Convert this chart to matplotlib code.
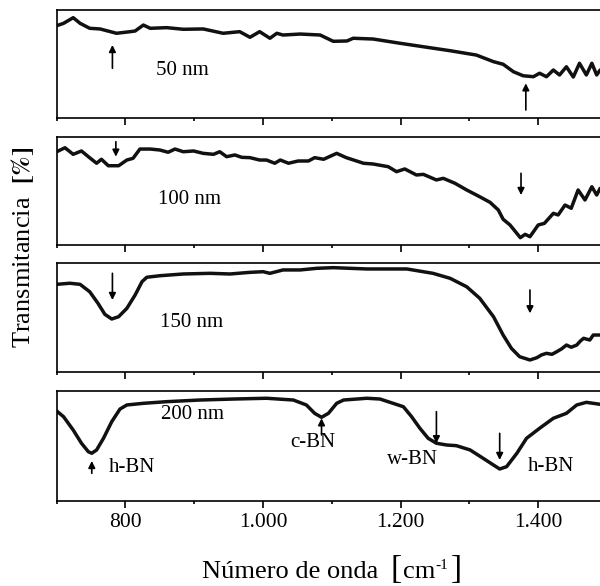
import numpy as np
import matplotlib.pyplot as plt
from matplotlib.ticker import FixedLocator, FuncFormatter

plt.rcParams['font.family'] = ['Liberation Serif', 'DejaVu Serif']
plt.rcParams['mathtext.fontset'] = 'stix'

# espectros FTIR, transmitancia normalizada (0 = fondo del panel, 100 = tope)
x_50 = [700, 710, 724, 734, 748, 763, 787, 807, 814, 826, 836, 860, 884, 913, 942, 966, 981, 995,
        1010, 1020, 1029, 1054, 1083, 1102, 1122, 1131, 1160, 1199, 1238, 1272, 1310, 1335, 1349,
        1364, 1378, 1393, 1402, 1412, 1422, 1431, 1441, 1451, 1460, 1470, 1478, 1485, 1490]
t_50 = [85.5, 87.7, 92.9, 87.7, 83.1, 82.5, 78.5, 80.0, 80.6, 86.1, 83.1, 83.7, 82.2, 82.5, 78.5,
        80.0, 74.8, 80.0, 73.9, 78.5, 76.9, 77.8, 76.9, 71.1, 71.4, 73.9, 73.2, 69.3, 65.6, 62.4,
        58.4, 52.3, 49.9, 43.0, 39.3, 38.4, 41.6, 38.4, 44.6, 40.0, 47.6, 38.1, 50.8, 40.0, 50.8,
        40.0, 44.6]

x_100 = [700, 712, 724, 736, 746, 758, 765, 775, 790, 802, 811, 821, 836, 850, 862, 872, 884, 899,
         913, 928, 937, 947, 959, 969, 981, 995, 1005, 1017, 1025, 1037, 1051, 1066, 1075, 1088,
         1107, 1121, 1146, 1160, 1182, 1194, 1206, 1223, 1233, 1252, 1262, 1279, 1296, 1315, 1330,
         1342, 1349, 1359, 1374, 1381, 1388, 1400, 1409, 1422, 1429, 1439, 1448, 1458, 1468, 1478,
         1485, 1490]
t_100 = [86.6, 90.3, 84.2, 87.3, 82.0, 75.9, 79.6, 73.6, 73.6, 78.9, 80.5, 89.1, 89.1, 88.2, 86.1,
         89.1, 86.6, 87.3, 85.1, 84.2, 86.6, 82.0, 83.6, 81.4, 81.1, 78.9, 78.9, 75.9, 78.9, 75.9,
         78.0, 78.0, 81.1, 79.6, 85.1, 81.1, 75.9, 75.2, 72.7, 68.1, 70.6, 65.0, 65.6, 60.4, 61.9,
         57.3, 51.1, 44.8, 39.6, 32.5, 23.9, 18.6, 6.8, 9.9, 7.7, 18.6, 20.1, 29.4, 27.9, 37.1,
         34.1, 51.1, 41.8, 54.1, 46.4, 52.6]

x_150 = [700, 719, 734, 748, 760, 770, 780, 790, 802, 814, 824, 831, 850, 884, 923, 952, 981, 1000,
         1010, 1029, 1054, 1078, 1102, 1151, 1209, 1247, 1272, 1296, 1315, 1335, 1349, 1361, 1373,
         1388, 1398, 1405, 1412, 1420, 1427, 1434, 1441, 1448, 1456, 1461, 1466, 1475, 1480, 1490]
t_150 = [80.7, 81.7, 80.7, 73.9, 63.3, 53.2, 48.9, 51.0, 58.7, 70.9, 83.1, 87.2, 88.6, 90.2, 90.8,
         90.2, 91.7, 92.3, 90.8, 93.9, 93.9, 95.4, 96.0, 94.8, 94.8, 90.8, 86.2, 78.5, 67.9, 51.0,
         34.2, 22.0, 14.3, 11.3, 13.4, 16.0, 17.4, 16.5, 18.9, 21.5, 25.0, 23.0, 25.0, 28.5, 31.2,
         29.6, 34.2, 34.2]

x_200 = [700, 710, 724, 736, 746, 751, 758, 768, 780, 792, 802, 826, 860, 908, 957, 1005, 1044,
         1063, 1075, 1085, 1095, 1107, 1117, 1151, 1170, 1189, 1204, 1216, 1228, 1240, 1252, 1267,
         1281, 1301, 1320, 1335, 1344, 1354, 1369, 1383, 1402, 1422, 1441, 1456, 1470, 1490]
t_200 = [81.8, 76.6, 64.5, 52.5, 44.8, 43.4, 46.4, 57.0, 72.1, 83.6, 87.3, 88.8, 90.3, 91.8, 92.7,
         93.4, 91.8, 87.3, 79.7, 76.1, 79.7, 88.8, 91.8, 93.4, 92.7, 88.8, 85.7, 76.6, 66.1, 57.0,
         52.5, 50.9, 50.3, 46.4, 38.8, 32.7, 29.1, 31.2, 43.4, 57.0, 66.1, 75.2, 79.7, 87.3, 89.7,
         87.9]

series = [(x_50, t_50), (x_100, t_100), (x_150, t_150), (x_200, t_200)]
sample_labels = ['50 nm', '100 nm', '150 nm', '200 nm']
label_pos = [(845, 44.1), (847, 42.7), (850, 45.7), (852, 78.2)]

# flechas: (x, cola, punta)
arrows = [
    [(781, 46.2, 67.7), (1382, 7.7, 32.3)],
    [(786, 95.9, 82.0), (1375, 66.6, 46.4)],
    [(781, 90.8, 66.3), (1388, 75.5, 54.1)],
    [(751, 25.2, 36.4), (1085, 60.0, 75.2), (1252, 81.2, 52.5), (1344, 61.5, 37.3)],
]
phase_labels = [('h-BN', 776, 30.0, 'left'), ('c-BN', 1072, 53.6, 'center'),
                ('w-BN', 1180, 37.3, 'left'), ('h-BN', 1385, 31.8, 'left')]

# posiciones de los paneles en pixeles (arriba, abajo)
panel_px = [(10, 118.3), (137.3, 245), (263.3, 372.3), (391, 501)]

fig = plt.figure(figsize=(6, 5.86), dpi=100)
W, H = 600., 586.
left_px, right_px = 56.7, 607

axes = []
for i, (top, bot) in enumerate(panel_px):
    ax = fig.add_axes([left_px / W, 1 - bot / H, (right_px - left_px) / W, (bot - top) / H])
    x, t = series[i]
    ax.plot(x, t, color='#111111', lw=2.5, solid_joinstyle='round', solid_capstyle='round')
    ax.set_xlim(700, 1500)
    ax.set_ylim(0, 100)
    ax.set_yticks([])
    for s in ax.spines.values():
        s.set_linewidth(1.2)
    ax.xaxis.set_major_locator(FixedLocator([800, 1000, 1200, 1400]))
    ax.xaxis.set_minor_locator(FixedLocator([700, 900, 1100, 1300, 1500]))
    ax.tick_params(axis='x', which='major', direction='out', length=5, width=1.2, pad=3.5,
                   labelsize=15.5)
    ax.tick_params(axis='x', which='minor', direction='out', length=2.5, width=1.2)
    if i < 3:
        ax.set_xticklabels([])
    else:
        ax.xaxis.set_major_formatter(FuncFormatter(lambda v, p: f'{int(v):,}'.replace(',', '.')))

    ax.text(label_pos[i][0], label_pos[i][1], sample_labels[i], fontsize=15, va='center', ha='left')
    for xa, tail, head in arrows[i]:
        ax.annotate('', xy=(xa, head), xytext=(xa, tail),
                    arrowprops=dict(arrowstyle='-|>', color='black', lw=1.2, mutation_scale=10,
                                    shrinkA=0, shrinkB=0))
    axes.append(ax)

for txt, xl, yl, ha in phase_labels:
    axes[3].text(xl, yl, txt, fontsize=15, va='center', ha=ha)

# etiqueta del eje x por piezas, para tener corchetes grandes
r = fig.canvas.get_renderer()
base = 586 - 577.7
pieces = [('Número de onda', 19, 0, 0), ('[', 24, 13, 0), ('cm', 19, 1, 0),
          ('-1', 11, 0, 8.7), (']', 24, 3, 0)]
xpos = 0.
parts = []
for s, fs, gap, dy in pieces:
    xpos += gap
    tx = fig.text(xpos / W, (base + dy) / H, s, fontsize=fs, va='baseline', ha='left')
    xpos += tx.get_window_extent(r).width
    parts.append(tx)
shift = 332 - xpos / 2
for tx in parts:
    px, py = tx.get_position()
    tx.set_x(px + shift / W)

fig.text(23 / W, 1 - 247 / H, r'Transmitancia  $\mathbf{[\%]}$', fontsize=19, rotation=90,
         ha='center', va='center')

plt.savefig('out.png', dpi=100)
